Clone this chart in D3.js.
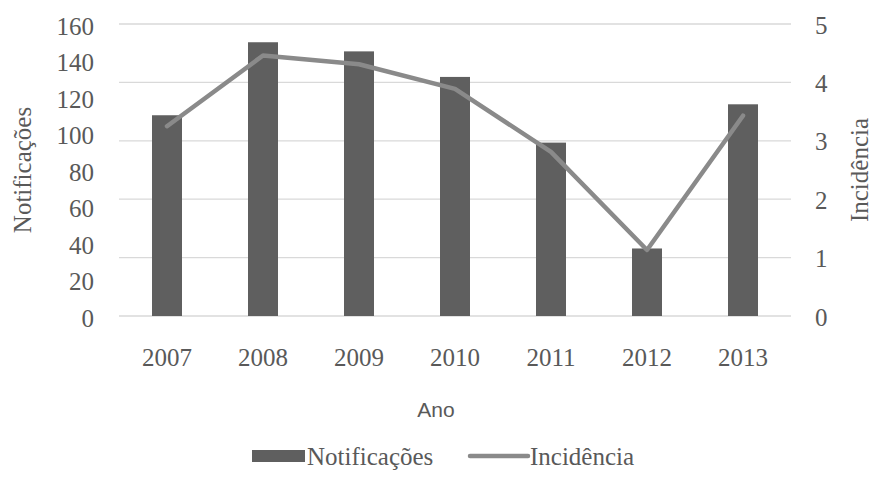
<!DOCTYPE html>
<html>
<head>
<meta charset="utf-8">
<script src="https://cdn.jsdelivr.net/npm/d3@7/dist/d3.min.js"></script>
<style>
  html, body { margin: 0; padding: 0; background: #fff; }
  svg { display: block; }
  .serif { font-family: "Liberation Serif", "Times New Roman", Times, "DejaVu Serif", serif; }
  .sans { font-family: "Liberation Sans", Arial, sans-serif; }
</style>
</head>
<body>
<svg id="chart" width="874" height="493"></svg>
<script>
const years = ["2007", "2008", "2009", "2010", "2011", "2012", "2013"];
const notificacoes = [110, 150, 145, 131, 95, 37, 116];
const incidencia = [3.25, 4.46, 4.31, 3.89, 2.81, 1.13, 3.43];
const leftTicks = [0, 20, 40, 60, 80, 100, 120, 140, 160];
const rightTicks = [0, 1, 2, 3, 4, 5];

const svg = d3.select("#chart");
const plot = { left: 119, right: 791, top: 24, bottom: 316 };
const textColor = "#595959";

const x = d3.scaleBand().domain(years).range([plot.left, plot.right]).padding(0);
const yL = d3.scaleLinear().domain([0, 160]).range([plot.bottom, plot.top]);
const yR = d3.scaleLinear().domain([0, 5]).range([plot.bottom, plot.top]);

// gridlines (from right axis)
svg.append("g").selectAll("line").data(rightTicks).join("line")
  .attr("x1", plot.left).attr("x2", plot.right)
  .attr("y1", d => yR(d)).attr("y2", d => yR(d))
  .attr("stroke", "#d9d9d9").attr("stroke-width", 1.3);

// bars
const barW = x.bandwidth() * 0.3125;
svg.append("g").selectAll("rect").data(years).join("rect")
  .attr("x", d => x(d) + x.bandwidth() / 2 - barW / 2)
  .attr("width", barW)
  .attr("y", (d, i) => yL(notificacoes[i]))
  .attr("height", (d, i) => yL(0) - yL(notificacoes[i]))
  .attr("fill", "#5f5f5f");

// line
const line = d3.line()
  .x((d, i) => x(years[i]) + x.bandwidth() / 2)
  .y(d => yR(d));
svg.append("path").datum(incidencia)
  .attr("d", line)
  .attr("fill", "none")
  .attr("stroke", "#8a8a8a")
  .attr("stroke-width", 4.5)
  .attr("stroke-linecap", "round")
  .attr("stroke-linejoin", "round");

// left tick labels
svg.append("g").selectAll("text").data(leftTicks).join("text")
  .attr("class", "serif")
  .attr("x", 94).attr("y", d => yL(d) + 2)
  .attr("dy", "0.34em")
  .attr("text-anchor", "end")
  .attr("font-size", 25)
  .attr("fill", textColor)
  .text(d => d);

// right tick labels
svg.append("g").selectAll("text").data(rightTicks).join("text")
  .attr("class", "serif")
  .attr("x", 815).attr("y", d => yR(d) + 1)
  .attr("dy", "0.34em")
  .attr("text-anchor", "start")
  .attr("font-size", 25)
  .attr("fill", textColor)
  .text(d => d);

// x tick labels
svg.append("g").selectAll("text").data(years).join("text")
  .attr("class", "serif")
  .attr("x", d => x(d) + x.bandwidth() / 2).attr("y", 357)
  .attr("dy", "0.34em")
  .attr("text-anchor", "middle")
  .attr("font-size", 25)
  .attr("fill", textColor)
  .text(d => d);

// axis titles
svg.append("text")
  .attr("class", "serif")
  .attr("transform", `translate(22, ${(plot.top + plot.bottom) / 2}) rotate(-90)`)
  .attr("dy", "0.34em")
  .attr("text-anchor", "middle")
  .attr("font-size", 25)
  .attr("fill", textColor)
  .text("Notificações");

svg.append("text")
  .attr("class", "serif")
  .attr("transform", `translate(859, ${(plot.top + plot.bottom) / 2}) rotate(-90)`)
  .attr("dy", "0.34em")
  .attr("text-anchor", "middle")
  .attr("font-size", 25)
  .attr("fill", textColor)
  .text("Incidência");

svg.append("text")
  .attr("class", "sans")
  .attr("x", 436).attr("y", 417)
  .attr("text-anchor", "middle")
  .attr("font-size", 21)
  .attr("fill", textColor)
  .text("Ano");

// legend
const legY = 456;
const leg = svg.append("g");
leg.append("rect").attr("x", 252).attr("y", legY - 6).attr("width", 53).attr("height", 12).attr("fill", "#5f5f5f");
leg.append("text").attr("class", "serif").attr("x", 307).attr("y", legY).attr("dy", "0.34em")
  .attr("font-size", 25).attr("fill", textColor)
  .text("Notificações");
leg.append("line").attr("x1", 470).attr("x2", 528).attr("y1", legY).attr("y2", legY)
  .attr("stroke", "#8a8a8a").attr("stroke-width", 4.5).attr("stroke-linecap", "round");
leg.append("text").attr("class", "serif").attr("x", 530).attr("y", legY).attr("dy", "0.34em")
  .attr("font-size", 25).attr("fill", textColor)
  .text("Incidência");
</script>
</body>
</html>
